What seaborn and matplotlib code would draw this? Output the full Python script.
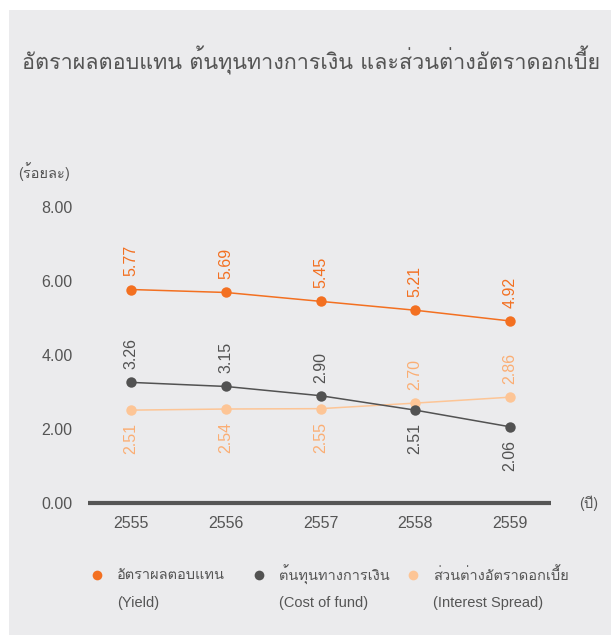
import matplotlib
matplotlib.use('Agg')
import matplotlib.pyplot as plt
import seaborn as sns
import pandas as pd
from matplotlib import font_manager
from matplotlib.ft2font import FT2Font
from matplotlib.patches import Rectangle
from matplotlib.lines import Line2D

# ---------------- data ----------------
years = ['2555', '2556', '2557', '2558', '2559']
yield_vals = [5.77, 5.69, 5.45, 5.21, 4.92]
cost_vals = [3.26, 3.15, 2.90, 2.51, 2.06]
spread_vals = [2.51, 2.54, 2.55, 2.70, 2.86]
series_th = ['อัตราผลตอบแทน', 'ต้นทุนทางการเงิน', 'ส่วนต่างอัตราดอกเบี้ย']
series_en = ['(Yield)', '(Cost of fund)', '(Interest Spread)']
yticks = [0, 2, 4, 6, 8]
title = 'อัตราผลตอบแทน ต้นทุนทางการเงิน และส่วนต่างอัตราดอกเบี้ย'
ylabel = '(ร้อยละ)'
xunit = '(ปี)'

colors = ['#f37021', '#525252', '#fdc596']
label_colors = ['#f37021', '#525252', '#fbae74']
txt = '#555555'
bg = '#ebebed'

# label placement (above / below) per point
spread_pos = ['below', 'below', 'below', 'above', 'above']
cost_pos = ['above', 'above', 'above', 'below', 'below']
yield_pos = ['above'] * 5


def find_thai_font():
    seen = set()
    for f in font_manager.fontManager.ttflist:
        if f.fname in seen:
            continue
        seen.add(f.fname)
        try:
            cm = FT2Font(f.fname).get_charmap()
        except Exception:
            continue
        if 0x0E2D in cm and 0x0E49 in cm and 0x0E31 in cm:
            return f.name
    return None


sns.set_theme(style='white')
thai = find_thai_font()
num_fam = ['Liberation Sans', 'DejaVu Sans']
thai_fam = ([thai] if thai else []) + ['Liberation Sans', 'DejaVu Sans']
plt.rcParams['font.family'] = num_fam

W, H = 611, 635
fig = plt.figure(figsize=(W / 100, H / 100), dpi=100)
fig.patch.set_facecolor('white')
fig.patches.append(Rectangle((9 / W, 0), 1 - 9 / W, (H - 10) / H,
                             transform=fig.transFigure, facecolor=bg,
                             edgecolor='none', zorder=-10))

ax_left, ax_right = 88, 551
y0_px, y8_px = 503, 207
ax = fig.add_axes([ax_left / W, (H - y0_px) / H,
                   (ax_right - ax_left) / W, (y0_px - y8_px) / H])
ax.set_facecolor('none')
ax.set_zorder(5)

df = pd.DataFrame({
    'x': list(range(len(years))) * 3,
    'value': yield_vals + cost_vals + spread_vals,
    'series': [series_th[0]] * 5 + [series_th[1]] * 5 + [series_th[2]] * 5,
})
for i, s in enumerate(series_th):
    sub = df[df['series'] == s]
    sns.lineplot(data=sub, x='x', y='value', color=colors[i], marker='o',
                 markersize=7.5, markeredgewidth=0, linewidth=1.1, ax=ax,
                 legend=False, zorder=3 + (2 - i))

for vals, pos, col in [(yield_vals, yield_pos, label_colors[0]),
                       (cost_vals, cost_pos, label_colors[1]),
                       (spread_vals, spread_pos, label_colors[2])]:
    for i, v in enumerate(vals):
        if pos[i] == 'above':
            ax.annotate(f'{v:.2f}', (i, v), xytext=(0, 9.5), textcoords='offset points',
                        rotation=90, ha='center', va='bottom', fontsize=11.5,
                        color=col, annotation_clip=False)
        else:
            ax.annotate(f'{v:.2f}', (i, v), xytext=(0, -9.5), textcoords='offset points',
                        rotation=90, ha='center', va='top', fontsize=11.5,
                        color=col, annotation_clip=False)

spacing = (510 - 131) / 4
ax.set_xlim(-(131 - ax_left) / spacing, 4 + (ax_right - 510) / spacing)
ax.set_ylim(0, 8)
ax.set_xticks(range(len(years)))
ax.set_xticklabels(years)
ax.set_yticks(yticks)
ax.set_yticklabels([f'{t:.2f}' for t in yticks])
ax.tick_params(axis='y', length=0, pad=11, labelsize=11.5, labelcolor=txt)
ax.tick_params(axis='x', length=0, pad=9, labelsize=11.5, labelcolor=txt)
ax.set_xlabel('')
ax.set_ylabel('')
for s in ['top', 'right', 'left']:
    ax.spines[s].set_visible(False)
ax.spines['bottom'].set_color('#555555')
ax.spines['bottom'].set_linewidth(3)
ax.spines['bottom'].set_capstyle('butt')
ax.grid(False)

# titles / units
fig.text(22 / W, 1 - 60 / H, title, fontsize=15.5, color=txt, family=thai_fam,
         ha='left', va='center')
fig.text(18 / W, 1 - 172 / H, ylabel, fontsize=10.5, color=txt, family=thai_fam,
         ha='left', va='center')
fig.text(579 / W, 1 - 503 / H, xunit, fontsize=10.5, color=txt, family=thai_fam,
         ha='left', va='center')

# legend
mx = [97, 259, 413]
tx = [117, 279, 433]
for i in range(3):
    fig.lines.append(Line2D([mx[i] / W], [1 - 575 / H], marker='o', markersize=7,
                            markeredgewidth=0, color=colors[i], linestyle='none',
                            transform=fig.transFigure))
    fig.text(tx[i] / W, 1 - 575 / H, series_th[i], fontsize=10.5, color=txt,
             family=thai_fam, ha='left', va='center')
    fig.text(tx[i] / W, 1 - 603 / H, series_en[i], fontsize=10.5, color=txt,
             ha='left', va='center')

fig.savefig('out.png', dpi=100, facecolor='white')
